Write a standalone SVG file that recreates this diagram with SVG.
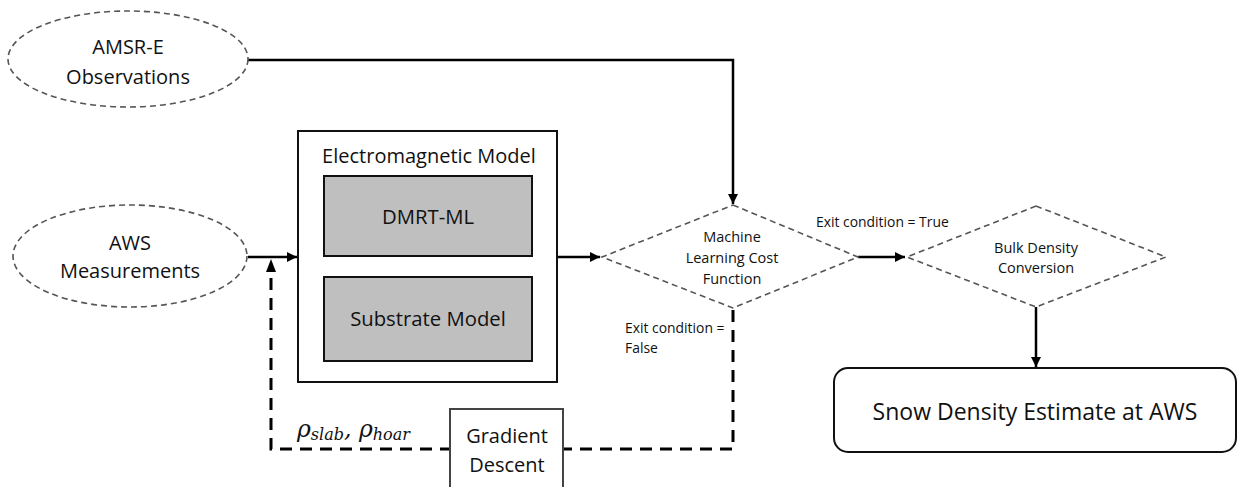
<svg xmlns="http://www.w3.org/2000/svg" width="1238" height="487" viewBox="0 0 1238 487">
<style>
text{font-family:"Open Sans","Noto Sans",sans-serif;fill:#111;text-anchor:middle}
.dashg{fill:#fff;stroke:#555;stroke-width:1.6;stroke-dasharray:6 4}
.box{fill:#fff;stroke:#111;stroke-width:2}
.gray{fill:#bfbfbf;stroke:#111;stroke-width:2}
.conn{fill:none;stroke:#000;stroke-width:2.5}
.fb{fill:none;stroke:#000;stroke-width:3;stroke-dasharray:12 8}
.small{font-family:"Open Sans",sans-serif;font-size:13.9px;text-anchor:start}
.math{font-family:"DejaVu Serif",serif;font-style:italic;text-anchor:start}
</style>
<defs>
<marker id="ah" viewBox="0 0 10 10" refX="10" refY="5" markerWidth="4" markerHeight="4" orient="auto" markerUnits="strokeWidth">
<path d="M0,0 L10,5 L0,10 z" fill="#000"/>
</marker>
</defs>
<rect width="1238" height="487" fill="#fff"/>
<g id="connectors">
<polyline class="conn" points="248,60 733,60 733,204" marker-end="url(#ah)"/>
<line class="conn" x1="248" y1="257" x2="297" y2="257" marker-end="url(#ah)"/>
<line class="conn" x1="557" y1="257" x2="600" y2="257" marker-end="url(#ah)"/>
<line class="conn" x1="858" y1="257" x2="905" y2="257" marker-end="url(#ah)"/>
<line class="conn" x1="1036" y1="307" x2="1036" y2="367" marker-end="url(#ah)"/>
<polyline class="fb" points="733,310 733,449 271,449 271,272"/>
<path d="M266,272 L271,259 L276,272 z" fill="#000"/>
<text class="small" x="816" y="227">Exit condition = True</text>
<text class="small" x="625" y="333">Exit condition =</text>
<text class="small" x="625" y="353">False</text>
<text class="math" x="297" y="437" font-size="23.5">ρ<tspan font-size="16" dy="3">slab</tspan><tspan dy="-3">, ρ</tspan><tspan font-size="16" dy="3">hoar</tspan></text>
</g>
<g id="amsr">
<ellipse class="dashg" cx="128" cy="59" rx="120" ry="48"/>
<text x="128" y="54" font-size="20">AMSR-E</text>
<text x="128" y="84" font-size="20">Observations</text>
</g>
<g id="aws">
<ellipse class="dashg" cx="130" cy="256" rx="117" ry="51"/>
<text x="130" y="250" font-size="20">AWS</text>
<text x="130" y="278" font-size="20">Measurements</text>
</g>
<g id="em">
<rect class="box" x="298" y="131" width="259" height="251"/>
<text x="429" y="163" font-size="20">Electromagnetic Model</text>
</g>
<g id="dmrt">
<rect class="gray" x="324" y="176" width="208" height="80"/>
<text x="428" y="224" font-size="20.3">DMRT-ML</text>
</g>
<g id="substrate">
<rect class="gray" x="324" y="277" width="208" height="84"/>
<text x="428" y="326" font-size="20.3">Substrate Model</text>
</g>
<g id="cost">
<polygon class="dashg" points="733,205 858,257 733,308 602,257"/>
<text x="732" y="242" font-size="14.5">Machine</text>
<text x="732" y="263" font-size="14.5">Learning Cost</text>
<text x="732" y="284" font-size="14.5">Function</text>
</g>
<g id="bulk">
<polygon class="dashg" points="1036,206 1166,257 1036,307 907,257"/>
<text x="1036" y="253" font-size="14.5">Bulk Density</text>
<text x="1036" y="273" font-size="14.5">Conversion</text>
</g>
<g id="snow">
<rect class="box" x="834" y="368" width="402" height="84" rx="14"/>
<text x="1035" y="420" font-size="23">Snow Density Estimate at AWS</text>
</g>
<g id="gd">
<rect x="450" y="409" width="113" height="90" fill="#fff" stroke="#444" stroke-width="2"/>
<text x="507" y="443" font-size="20">Gradient</text>
<text x="507" y="472" font-size="20">Descent</text>
</g>
</svg>
